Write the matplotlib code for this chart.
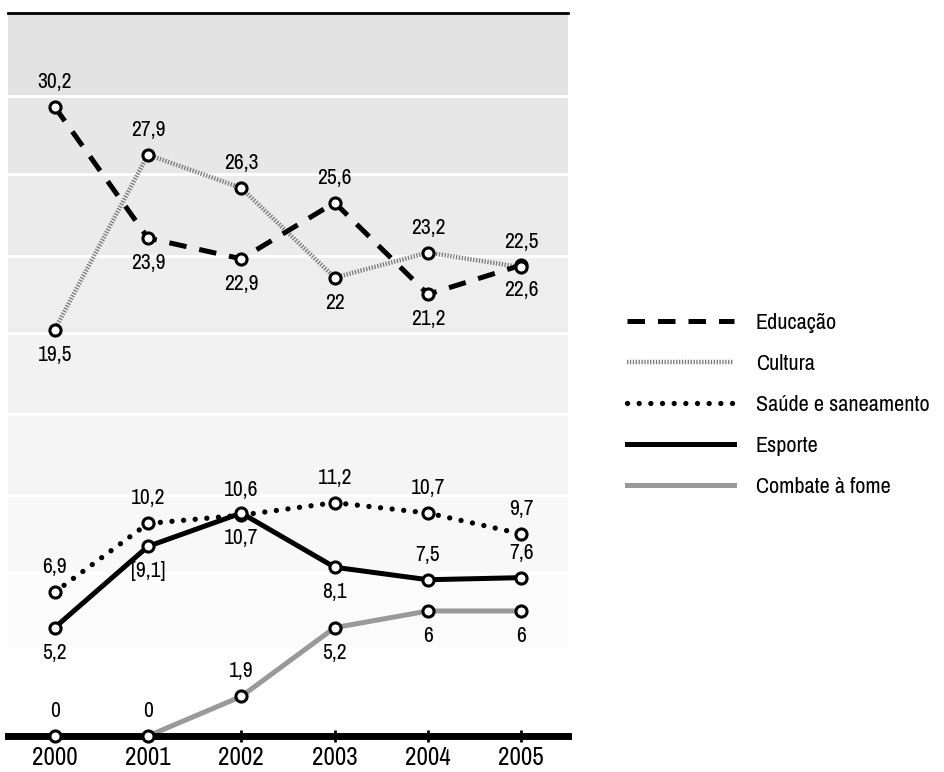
import matplotlib
matplotlib.use("Agg")
import matplotlib.pyplot as plt
from matplotlib import font_manager
from matplotlib.lines import Line2D

names = sorted({f.name for f in font_manager.fontManager.ttflist})
narrow = [n for n in names if "Narrow" in n or "Condensed" in n]
family = narrow[0] if narrow else "Roboto"
plt.rcParams["font.family"] = [family, "DejaVu Sans"]

years = [2000, 2001, 2002, 2003, 2004, 2005]
series_names = ["Educação", "Cultura", "Saúde e saneamento", "Esporte", "Combate à fome"]

educacao = [30.2, 23.9, 22.9, 25.6, 21.2, 22.6]
cultura = [19.5, 27.9, 26.3, 22.0, 23.2, 22.5]
saude = [6.9, 10.2, 10.6, 11.2, 10.7, 9.7]
esporte = [5.2, 9.1, 10.7, 8.1, 7.5, 7.6]
fome = [0, 0, 1.9, 5.2, 6, 6]

educacao_lbl = ["30,2", "23,9", "22,9", "25,6", "21,2", "22,6"]
cultura_lbl = ["19,5", "27,9", "26,3", "22", "23,2", "22,5"]
saude_lbl = ["6,9", "10,2", "10,6", "11,2", "10,7", "9,7"]
esporte_lbl = ["5,2", "[9,1]", "10,7", "8,1", "7,5", "7,6"]
fome_lbl = ["0", "0", "1,9", "5,2", "6", "6"]

# label side: 1 above, -1 below
educacao_side = [1, -1, -1, 1, -1, -1]
cultura_side = [-1, 1, 1, -1, 1, 1]
saude_side = [1, 1, 1, 1, 1, 1]
esporte_side = [-1, -1, -1, -1, 1, 1]
fome_side = [1, 1, 1, -1, -1, -1]

fig = plt.figure(figsize=(9.44, 7.72), dpi=100)
ax = fig.add_axes([8 / 944, 1 - 736 / 772, 560 / 944, 723 / 772])
ymax = 34.7
ax.set_xlim(1999.5, 2005.5)
ax.set_ylim(0, ymax)

# stepped grey background with white separators
bounds = [0, 0.12, 0.225, 0.334, 0.445, 0.557, 0.664, 0.778, 0.885, 1.0]
shades = [0.995, 0.984, 0.972, 0.96, 0.948, 0.935, 0.92, 0.905, 0.885]
for i in range(len(shades)):
    ax.axhspan(bounds[i] * ymax, bounds[i + 1] * ymax, color=str(shades[i]), lw=0, zorder=0)
for b in bounds[1:-1]:
    ax.axhline(b * ymax, color="white", lw=2.2, zorder=1)

lw = 3.6
ax.plot(years, fome, color="#999999", lw=lw, solid_capstyle="butt", zorder=3)
ax.plot(years, cultura, color="#7a7a7a", lw=3.2, dashes=(0.3, 0.35), dash_capstyle="butt", zorder=3)
ax.plot(years, esporte, color="black", lw=lw, zorder=3)
ax.plot(years, saude, color="black", lw=3.8, dashes=(0.01, 2.2), dash_capstyle="round", zorder=3)
ax.plot(years, educacao, color="black", lw=lw, dashes=(3.5, 2.6), dash_capstyle="butt", zorder=3)

for vals in [educacao, cultura, saude, esporte, fome]:
    ax.plot(years, vals, ls="none", marker="o", ms=8, mfc="white", mec="black", mew=2.2,
            zorder=6, clip_on=False)

for vals, lbls, sides in [(educacao, educacao_lbl, educacao_side),
                          (cultura, cultura_lbl, cultura_side),
                          (saude, saude_lbl, saude_side),
                          (esporte, esporte_lbl, esporte_side),
                          (fome, fome_lbl, fome_side)]:
    for x, y, t, s in zip(years, vals, lbls, sides):
        ax.annotate(t, (x, y), xytext=(0, 18 * s), textcoords="offset points",
                    ha="center", va="center", fontsize=15.5, zorder=7)

for sp in ["left", "right"]:
    ax.spines[sp].set_visible(False)
ax.spines["top"].set_linewidth(2)
ax.spines["bottom"].set_linewidth(5)
ax.spines["bottom"].set_zorder(4)
ax.set_yticks([])
ax.set_xticks(years)
ax.set_xticklabels([str(y) for y in years], fontsize=18)
ax.tick_params(axis="x", length=9, width=2, direction="inout", pad=3)

# legend
handles = [
    Line2D([], [], color="black", lw=lw, dashes=(3.5, 2.6), dash_capstyle="butt"),
    Line2D([], [], color="#7a7a7a", lw=3.2, dashes=(0.3, 0.35), dash_capstyle="butt"),
    Line2D([], [], color="black", lw=3.8, dashes=(0.01, 2.2), dash_capstyle="round"),
    Line2D([], [], color="black", lw=lw),
    Line2D([], [], color="#999999", lw=lw),
]
fig.legend(handles, series_names, loc="center left", bbox_to_anchor=(627 / 944, 1 - 405 / 772),
           frameon=False, fontsize=16, handlelength=4.8, handletextpad=1.0,
           labelspacing=0.95, borderpad=0, borderaxespad=0)

fig.savefig("out.png", dpi=100)
